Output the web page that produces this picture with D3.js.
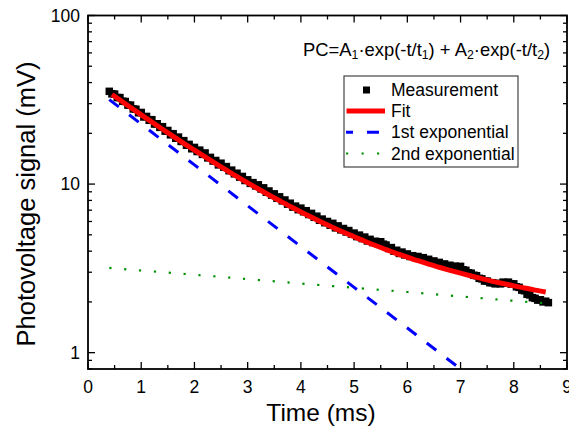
<!DOCTYPE html>
<html>
<head>
<meta charset="utf-8">
<script src="https://cdn.jsdelivr.net/npm/d3@7"></script>
<style>
  html, body { margin: 0; padding: 0; background: #fff; }
  svg { display: block; font-family: "Liberation Sans", Arial, sans-serif; }
</style>
</head>
<body>
<svg id="chart" width="569" height="431"></svg>
<script>
// ---- data ----
const measTime = [0.40,0.45,0.50,0.55,0.60,0.65,0.70,0.75,0.80,0.85,0.90,0.95,1.00,1.05,1.10,1.15,1.20,1.25,1.30,1.35,1.40,1.45,1.50,1.55,1.60,1.65,1.70,1.75,1.80,1.85,1.90,1.95,2.00,2.05,2.10,2.15,2.20,2.25,2.30,2.35,2.40,2.45,2.50,2.55,2.60,2.65,2.70,2.75,2.80,2.85,2.90,2.95,3.00,3.05,3.10,3.15,3.20,3.25,3.30,3.35,3.40,3.45,3.50,3.55,3.60,3.65,3.70,3.75,3.80,3.85,3.90,3.95,4.00,4.05,4.10,4.15,4.20,4.25,4.30,4.35,4.40,4.45,4.50,4.55,4.60,4.65,4.70,4.75,4.80,4.85,4.90,4.95,5.00,5.05,5.10,5.15,5.20,5.25,5.30,5.35,5.40,5.45,5.50,5.55,5.60,5.65,5.70,5.75,5.80,5.85,5.90,5.95,6.00,6.05,6.10,6.15,6.20,6.25,6.30,6.35,6.40,6.45,6.50,6.55,6.60,6.65,6.70,6.75,6.80,6.85,6.90,6.95,7.00,7.05,7.10,7.15,7.20,7.25,7.30,7.35,7.40,7.45,7.50,7.55,7.60,7.65,7.70,7.75,7.80,7.85,7.90,7.95,8.00,8.05,8.10,8.15,8.20,8.25,8.30,8.35,8.40,8.45,8.50,8.55,8.60,8.65];
const measValue = [35.5,34.3,34.2,32.6,32.6,31.0,30.9,29.4,29.4,27.9,27.8,26.5,26.6,25.0,25.2,23.9,24.1,22.7,22.8,21.7,21.9,20.6,20.8,19.6,19.9,18.7,19.0,17.9,18.1,17.0,17.2,16.2,16.5,15.6,15.9,15.0,15.3,14.3,14.4,13.7,13.8,13.0,13.3,12.6,12.7,12.0,12.1,11.5,11.6,11.0,11.1,10.5,10.6,10.1,10.2,9.75,9.9,9.35,9.5,8.95,9.1,8.6,8.75,8.25,8.4,7.95,8.05,7.6,7.7,7.3,7.4,7.05,7.2,6.85,6.95,6.6,6.7,6.35,6.45,6.1,6.2,5.9,6.0,5.7,5.85,5.5,5.65,5.35,5.45,5.2,5.3,5.05,5.12,4.88,4.98,4.75,4.85,4.6,4.7,4.5,4.58,4.48,4.55,4.4,4.35,4.15,4.2,4.0,4.05,3.88,3.95,3.8,3.85,3.72,3.76,3.66,3.72,3.62,3.66,3.55,3.58,3.47,3.5,3.4,3.43,3.32,3.36,3.26,3.3,3.2,3.26,3.22,3.25,3.1,3.08,2.98,2.96,2.88,2.86,2.76,2.74,2.66,2.66,2.6,2.6,2.56,2.58,2.56,2.62,2.58,2.62,2.55,2.56,2.46,2.44,2.35,2.33,2.22,2.2,2.12,2.1,2.05,2.06,2.0,2.02,1.98];

const fitTime = [0.45,0.6,0.8,1.0,1.2,1.4,1.6,1.8,2.0,2.2,2.4,2.6,2.8,3.0,3.2,3.4,3.6,3.8,4.0,4.2,4.4,4.6,4.8,5.0,5.2,5.4,5.6,5.8,6.0,6.2,6.4,6.6,6.8,7.0,7.2,7.4,7.6,7.8,8.0,8.2,8.4,8.6];
const fitValue = [34.0,31.5,28.47,25.75,23.33,21.15,19.2,17.45,15.89,14.48,13.22,12.09,11.07,10.17,9.35,8.62,7.96,7.36,6.83,6.35,5.92,5.53,5.18,4.87,4.58,4.32,4.09,3.87,3.69,3.51,3.35,3.21,3.08,2.96,2.85,2.75,2.65,2.57,2.49,2.42,2.35,2.29];

const exp1Time = [0.4,1,2,3,4,5,6,7];
const exp1Value = [31.7,22.7,13.0,7.44,4.26,2.44,1.40,0.80];

const exp2Time = [0.4,2,4,6,8,8.6];
const exp2Value = [3.18,2.90,2.57,2.29,2.03,1.96];

const xTicks = [0,1,2,3,4,5,6,7,8,9];
const yTicks = [1,10,100];
const yTickLabels = ["1","10","100"];
const legendLabels = ["Measurement","Fit","1st exponential","2nd exponential"];

// ---- layout ----
const svg = d3.select("#chart");
const L = 88, R = 567, T = 15.5, B = 369;
const x = d3.scaleLinear().domain([0, 9]).range([L, R]);
const y = d3.scaleLog().domain([0.8, 100]).range([B, T]);

const defs = svg.append("defs");
defs.append("clipPath").attr("id", "clip")
  .append("rect").attr("x", L).attr("y", T).attr("width", R - L).attr("height", B - T);

const plot = svg.append("g").attr("clip-path", "url(#clip)");

// measurement squares
const sq = 7.5;
plot.append("g").selectAll("rect")
  .data(measTime.map((t, i) => [t, measValue[i]]))
  .join("rect")
  .attr("x", d => x(d[0]) - sq / 2)
  .attr("y", d => y(d[1]) - sq / 2)
  .attr("width", sq).attr("height", sq)
  .attr("fill", "#000");

const line = d3.line().x(d => x(d[0])).y(d => y(d[1]));
const smooth = d3.line().x(d => x(d[0])).y(d => y(d[1])).curve(d3.curveMonotoneX);

// 2nd exponential (green dotted)
plot.append("path")
  .attr("d", line(exp2Time.map((t, i) => [t, exp2Value[i]])))
  .attr("fill", "none").attr("stroke", "#009000")
  .attr("stroke-width", 2.2).attr("stroke-dasharray", "2.2,12.7");

// 1st exponential (blue dashed)
plot.append("path")
  .attr("d", line(exp1Time.map((t, i) => [t, exp1Value[i]])))
  .attr("fill", "none").attr("stroke", "#0000ff")
  .attr("stroke-width", 3).attr("stroke-dasharray", "12,13");

// fit (red)
plot.append("path")
  .attr("d", smooth(fitTime.map((t, i) => [t, fitValue[i]])))
  .attr("fill", "none").attr("stroke", "#ff0000")
  .attr("stroke-width", 5);

// ---- axes / frame ----
const ax = svg.append("g").attr("stroke", "#000").attr("stroke-width", 1.3);
const xMinor = d3.range(0.5, 9, 1);
xTicks.forEach(t => {
  ax.append("line").attr("x1", x(t)).attr("x2", x(t)).attr("y1", B).attr("y2", B - 7);
  ax.append("line").attr("x1", x(t)).attr("x2", x(t)).attr("y1", T).attr("y2", T + 7);
});
xMinor.forEach(t => {
  ax.append("line").attr("x1", x(t)).attr("x2", x(t)).attr("y1", B).attr("y2", B - 4);
  ax.append("line").attr("x1", x(t)).attr("x2", x(t)).attr("y1", T).attr("y2", T + 4);
});
const yMinor = [0.8, 0.9, 2, 3, 4, 5, 6, 7, 8, 9, 20, 30, 40, 50, 60, 70, 80, 90];
yTicks.forEach(v => {
  ax.append("line").attr("x1", L).attr("x2", L + 7).attr("y1", y(v)).attr("y2", y(v));
  ax.append("line").attr("x1", R).attr("x2", R - 7).attr("y1", y(v)).attr("y2", y(v));
});
yMinor.forEach(v => {
  ax.append("line").attr("x1", L).attr("x2", L + 4).attr("y1", y(v)).attr("y2", y(v));
  ax.append("line").attr("x1", R).attr("x2", R - 4).attr("y1", y(v)).attr("y2", y(v));
});
svg.append("rect").attr("x", L).attr("y", T).attr("width", R - L).attr("height", B - T)
  .attr("fill", "none").attr("stroke", "#000").attr("stroke-width", 1.8);

// tick labels
svg.append("g").selectAll("text").data(xTicks).join("text")
  .attr("x", d => x(d)).attr("y", 393)
  .attr("text-anchor", "middle").attr("font-size", 17.5).attr("fill", "#000")
  .text(d => d);
svg.append("g").selectAll("text").data(yTicks).join("text")
  .attr("x", 80).attr("y", d => y(d) + 6)
  .attr("text-anchor", "end").attr("font-size", 17.5).attr("fill", "#000")
  .text((d, i) => yTickLabels[i]);

// axis titles
svg.append("text").attr("x", 321).attr("y", 421)
  .attr("text-anchor", "middle").attr("font-size", 24.5).text("Time (ms)");
svg.append("text").attr("transform", "translate(35,204) rotate(-90)")
  .attr("text-anchor", "middle").attr("font-size", 25.5).text("Photovoltage signal (mV)");

// equation
const eq = svg.append("text").attr("x", 303).attr("y", 56).attr("font-size", 18.4);
const parts = [["PC=A",0],["1",1],["·exp(-t/t",0],["1",1],[") + A",0],["2",1],["·exp(-t/t",0],["2",1],[")",0]];
parts.forEach(p => {
  eq.append("tspan").attr("baseline-shift", p[1] ? "-25%" : null)
    .attr("font-size", p[1] ? 12.3 : null).text(p[0]);
});

// legend
const lg = svg.append("g");
lg.append("rect").attr("x", 344).attr("y", 76).attr("width", 174).attr("height", 91)
  .attr("fill", "#fff").attr("stroke", "#444").attr("stroke-width", 1.2);
const rowY = [90, 111, 132.3, 153.5];
lg.append("rect").attr("x", 366.5 - 3.5).attr("y", rowY[0] - 3.5).attr("width", 7).attr("height", 7).attr("fill", "#000");
lg.append("line").attr("x1", 346.5).attr("x2", 385).attr("y1", rowY[1]).attr("y2", rowY[1])
  .attr("stroke", "#ff0000").attr("stroke-width", 5);
lg.append("line").attr("x1", 346).attr("x2", 385).attr("y1", rowY[2]).attr("y2", rowY[2])
  .attr("stroke", "#0000ff").attr("stroke-width", 3).attr("stroke-dasharray", "12,14").attr("stroke-dashoffset", 5);
lg.append("line").attr("x1", 346).attr("x2", 385).attr("y1", rowY[3]).attr("y2", rowY[3])
  .attr("stroke", "#009000").attr("stroke-width", 2.2).attr("stroke-dasharray", "2.2,13.3");
lg.selectAll("text.lab").data(legendLabels).join("text").attr("class", "lab")
  .attr("x", 391).attr("y", (d, i) => rowY[i] + 6)
  .attr("font-size", 17.5).text(d => d);
</script>
</body>
</html>
